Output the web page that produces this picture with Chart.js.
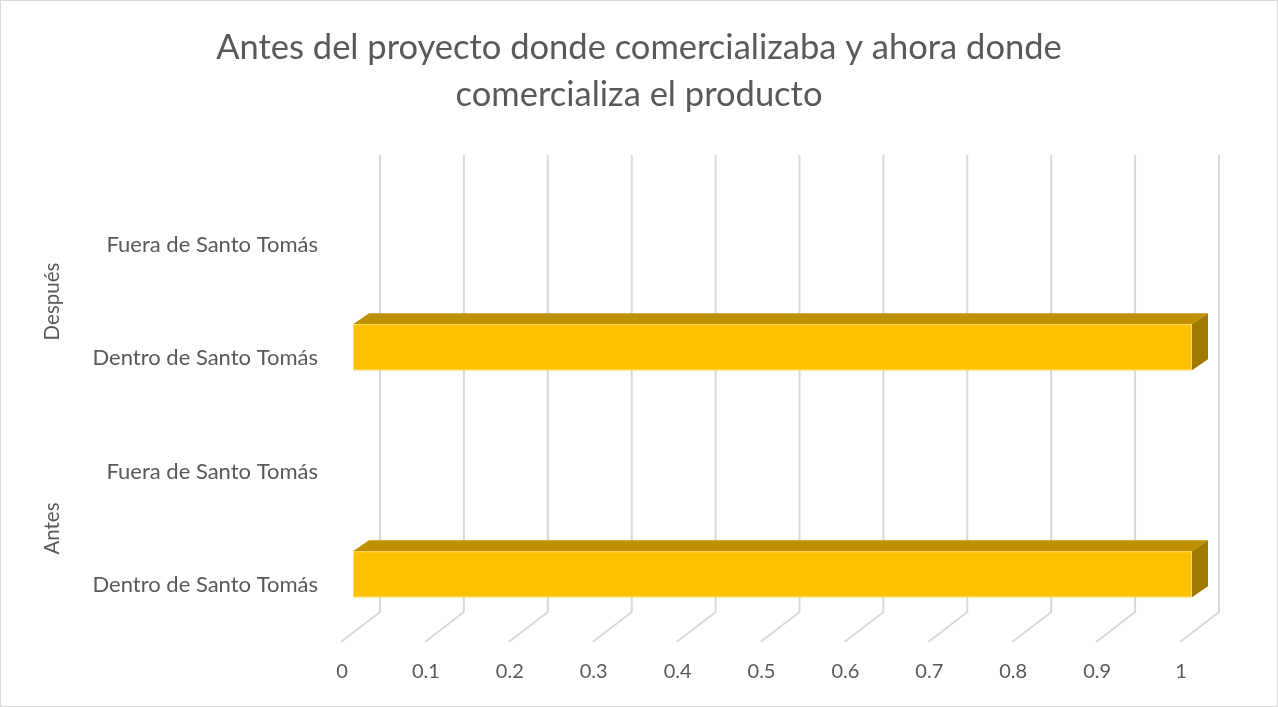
<!DOCTYPE html>
<html>
<head>
<meta charset="utf-8">
<script src="https://cdn.jsdelivr.net/npm/chart.js@4.4.0/dist/chart.umd.min.js"></script>
<style>
  html, body { margin: 0; padding: 0; background: #fff; }
  #wrap { width: 1278px; height: 707px; position: relative; }
</style>
</head>
<body>
<div id="wrap"><canvas id="chart" width="1278" height="707"></canvas></div>
<script>
// Excel order: bottom to top
const categories = ["Dentro de Santo Tomás", "Fuera de Santo Tomás", "Dentro de Santo Tomás", "Fuera de Santo Tomás"];
const groups = ["Antes", "Antes", "Después", "Después"];
const values = [1, 0, 1, 0];
const tickLabels = ["0", "0.1", "0.2", "0.3", "0.4", "0.5", "0.6", "0.7", "0.8", "0.9", "1"];
const titleLines = ["Antes del proyecto donde comercializaba y ahora donde", "comercializa el producto"];

const FONT = "Lato, 'Open Sans', sans-serif";
const GREY = "#595959";

// 3d look: grid walls drawn behind, bars drawn as boxes
const depthPlugin = {
  id: "depth",
  beforeDatasetsDraw(chart) {
    const { ctx, chartArea } = chart;
    const xs = chart.scales.x;
    ctx.save();
    ctx.strokeStyle = "#d9d9d9";
    ctx.lineWidth = 2;
    xs.ticks.forEach(t => {
      const p = xs.getPixelForValue(t.value);
      ctx.beginPath();
      ctx.moveTo(p + 27, chartArea.top - 33);
      ctx.lineTo(p + 27, chartArea.bottom - 30);
      ctx.lineTo(p - 12, chartArea.bottom);
      ctx.stroke();
    });
    ctx.restore();
  },
  afterDatasetsDraw(chart) {
    const { ctx } = chart;
    const meta = chart.getDatasetMeta(0);
    ctx.save();
    meta.data.forEach((bar, i) => {
      if (!values[i]) return;
      const { x, y, base, height } = bar.getProps(["x", "y", "base", "height"], true);
      const top = y - 11 - height / 2;
      const bot = top + height;
      const dx = 16, dy = 11;
      // top face
      ctx.fillStyle = "#BF9000";
      ctx.beginPath();
      ctx.moveTo(base, top);
      ctx.lineTo(base + dx, top - dy);
      ctx.lineTo(x + dx, top - dy);
      ctx.lineTo(x, top);
      ctx.closePath();
      ctx.fill();
      // side face
      ctx.fillStyle = "#A07A00";
      ctx.beginPath();
      ctx.moveTo(x, top);
      ctx.lineTo(x + dx, top - dy);
      ctx.lineTo(x + dx, bot - dy);
      ctx.lineTo(x, bot);
      ctx.closePath();
      ctx.fill();
      // front face
      ctx.fillStyle = "#FFC000";
      ctx.fillRect(base, top, x - base, height);
      ctx.strokeStyle = "#FFD966";
      ctx.lineWidth = 1;
      ctx.strokeRect(base + 0.5, top + 0.5, x - base - 1, height - 1);
    });
    ctx.restore();
  },
  afterDraw(chart) {
    const { ctx } = chart;
    const ys = chart.scales.y;
    ctx.save();
    ctx.fillStyle = GREY;
    ctx.textAlign = "center";
    ctx.textBaseline = "middle";
    // title, centred on the whole canvas
    ctx.font = "34.5px " + FONT;
    titleLines.forEach((line, i) => ctx.fillText(line, chart.width / 2, 48 + i * 47));
    // group labels
    ctx.font = "20.5px " + FONT;
    const seen = [];
    groups.forEach(g => {
      if (seen.includes(g)) return;
      seen.push(g);
      const idx = groups.map((v, i) => v === g ? i : -1).filter(i => i >= 0);
      const ym = idx.reduce((s, i) => s + ys.getPixelForValue(i), 0) / idx.length;
      ctx.save();
      ctx.translate(52, ym);
      ctx.rotate(-Math.PI / 2);
      ctx.fillText(g, 0, 0);
      ctx.restore();
    });
    // outer border
    ctx.strokeStyle = "#d9d9d9";
    ctx.lineWidth = 1;
    ctx.strokeRect(0.5, 0.5, chart.width - 1, chart.height - 1);
    ctx.restore();
  }
};

new Chart(document.getElementById("chart"), {
  type: "bar",
  data: {
    labels: categories,
    datasets: [{
      data: values,
      backgroundColor: "rgba(0,0,0,0)",
      borderWidth: 0,
      barThickness: 46
    }]
  },
  options: {
    indexAxis: "y",
    responsive: false,
    animation: false,
    layout: { padding: { top: 188, right: 86, bottom: 0, left: 0 } },
    plugins: {
      legend: { display: false },
      tooltip: { enabled: false },
      title: { display: false }
    },
    scales: {
      x: {
        min: 0,
        max: 1,
        ticks: {
          stepSize: 0.1,
          color: GREY,
          font: { family: FONT, size: 20 },
          labelOffset: -11,
          padding: 10,
          callback: (v, i) => tickLabels[i]
        },
        grid: { display: false },
        border: { display: false },
        afterFit: s => { s.height = 65; }
      },
      y: {
        reverse: true,
        ticks: {
          color: GREY,
          font: { family: FONT, size: 22 },
          padding: 27
        },
        grid: { display: false },
        border: { display: false },
        afterFit: s => { s.width = 353; }
      }
    }
  },
  plugins: [depthPlugin]
});
</script>
</body>
</html>
